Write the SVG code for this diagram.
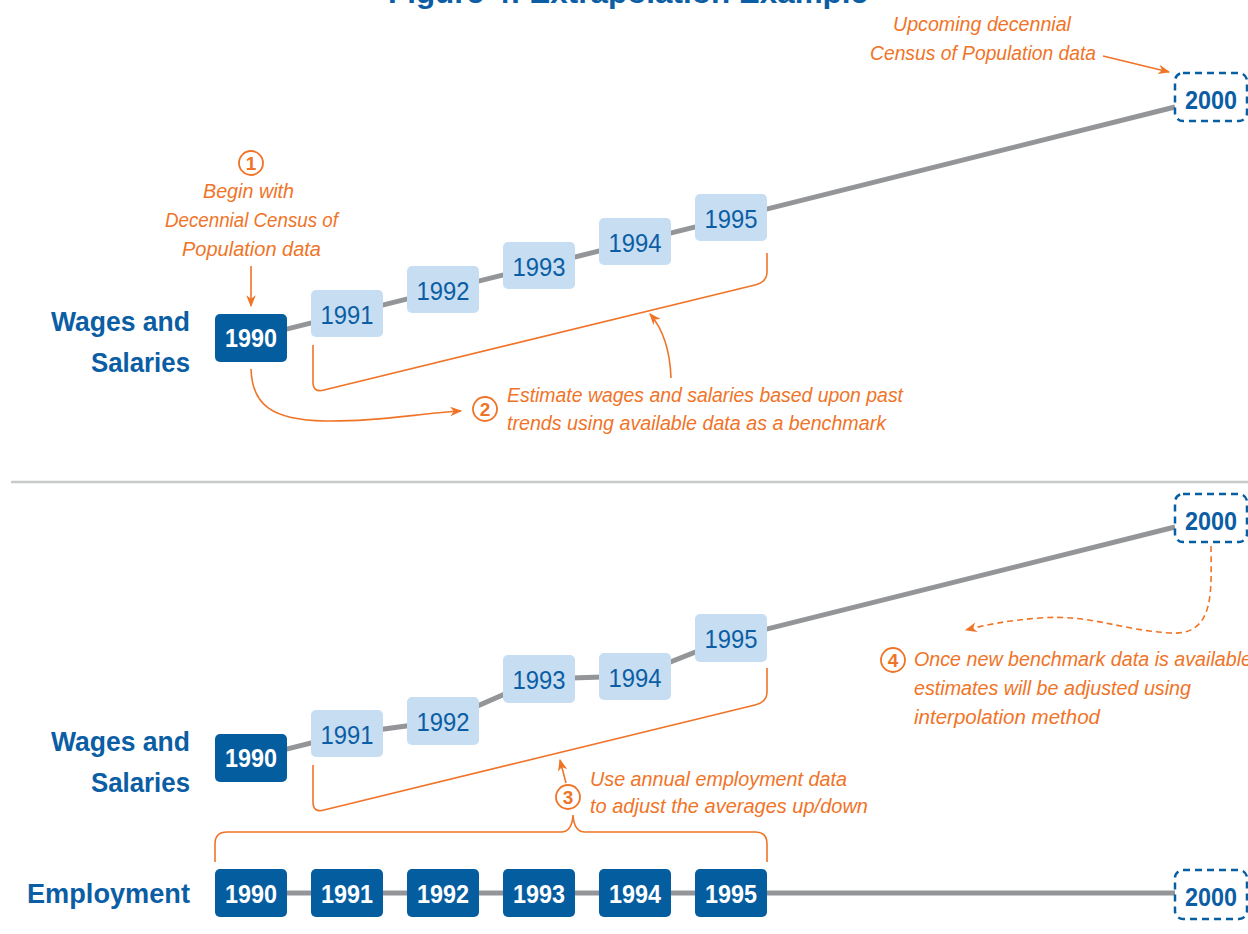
<svg xmlns="http://www.w3.org/2000/svg" width="1248" height="934" viewBox="0 0 1248 934">
<style>
.dk{fill:#045d9f}
.lt{fill:#c7ddf2}
.dash{fill:#ffffff;stroke:#065fa3;stroke-width:2.5;stroke-dasharray:7 5}
.wt{font-family:"Liberation Sans",Arial,sans-serif;font-weight:bold;font-size:25px;fill:#ffffff;text-anchor:middle}
.bt{font-family:"Liberation Sans",Arial,sans-serif;font-size:25px;fill:#0b5ea4;text-anchor:middle}
.bb{font-family:"Liberation Sans",Arial,sans-serif;font-weight:bold;font-size:25px;fill:#0b5ea4;text-anchor:middle}
.lab{font-family:"Liberation Sans",Arial,sans-serif;font-weight:bold;font-size:27px;fill:#0b5ea4;text-anchor:end}
.ann{font-family:"Liberation Sans",Arial,sans-serif;font-style:italic;font-size:20.5px;fill:#f07428}
.num{font-family:"Liberation Sans",Arial,sans-serif;font-weight:bold;font-size:19px;fill:#f07428;text-anchor:middle}
.circ{fill:#ffffff;stroke:#f07428;stroke-width:1.8}
.gl{fill:none;stroke:#939598;stroke-width:5}
.ol{fill:none;stroke:#f07428;stroke-width:1.6}
.od{fill:none;stroke:#f07428;stroke-width:1.6;stroke-dasharray:6 4}
</style>
<defs>
<marker id="ah" viewBox="0 0 10 10" refX="9" refY="5" markerWidth="12" markerHeight="12" markerUnits="userSpaceOnUse" orient="auto">
<path d="M0,1 L10,5 L0,9 L3,5 Z" fill="#f07428"/>
</marker>
</defs>

<g id="title">
<text x="628" y="3" textLength="480" lengthAdjust="spacingAndGlyphs" style="font-family:'Liberation Sans',Arial,sans-serif;font-weight:bold;font-size:30px;fill:#0b5ea4;text-anchor:middle">Figure 4: Extrapolation Example</text>
</g>

<g id="separator">
<line x1="11" y1="482" x2="1248" y2="482" stroke="#c8c9c9" stroke-width="2.5"/>
</g>

<g id="connectors">
<polyline class="gl" points="251,338 1175,107"/>
<polyline class="gl" points="251,758 347,734 443,721 539,679 635,676 731,638 1175,527"/>
<line class="gl" x1="251" y1="893" x2="1175" y2="893"/>
<line class="ol" x1="1103" y1="56" x2="1169" y2="72" marker-end="url(#ah)"/>
<line class="ol" x1="251" y1="266" x2="251" y2="306" marker-end="url(#ah)"/>
<path class="ol" d="M313 345 V382 Q313 393 324 390 L755 285 Q767 282 767 272 V253"/>
<path class="ol" d="M671 378 C670 350 663 329 650 314" marker-end="url(#ah)"/>
<path class="ol" d="M251 369 C252 405 272 420 325 421 C380 422 420 413 461 411" marker-end="url(#ah)"/>
<path class="ol" d="M313 765 V802 Q313 813 324 810 L755 705 Q767 702 767 692 V668"/>
<line class="ol" x1="566" y1="783" x2="560" y2="760" marker-end="url(#ah)"/>
<path class="ol" d="M215 862 V844 Q215 832 227 832 H561 Q572 832 573 815 Q574 832 585 832 H755 Q767 832 767 844 V862"/>
<path class="od" d="M1211 546 C1211 590 1216 636 1170 633 C1120 630 1090 614 1040 618 C1010 620 985 625 966 630" marker-end="url(#ah)"/>
</g>

<g id="label-wages-top">
<text class="lab" x="190" y="331" textLength="139" lengthAdjust="spacingAndGlyphs">Wages and</text>
<text class="lab" x="190" y="372" textLength="99" lengthAdjust="spacingAndGlyphs">Salaries</text>
</g>
<g id="label-wages-mid">
<text class="lab" x="190" y="751" textLength="139" lengthAdjust="spacingAndGlyphs">Wages and</text>
<text class="lab" x="190" y="792" textLength="99" lengthAdjust="spacingAndGlyphs">Salaries</text>
</g>
<g id="label-employment">
<text class="lab" x="190" y="903" textLength="163" lengthAdjust="spacingAndGlyphs">Employment</text>
</g>

<g id="t1990"><rect class="dk" x="215" y="314" width="72" height="48" rx="5"/><text class="wt" x="251" y="347" textLength="52" lengthAdjust="spacingAndGlyphs">1990</text></g>
<g id="t1991"><rect class="lt" x="311" y="290" width="72" height="47" rx="5"/><text class="bt" x="347" y="324" textLength="53" lengthAdjust="spacingAndGlyphs">1991</text></g>
<g id="t1992"><rect class="lt" x="407" y="266" width="72" height="47" rx="5"/><text class="bt" x="443" y="300" textLength="53" lengthAdjust="spacingAndGlyphs">1992</text></g>
<g id="t1993"><rect class="lt" x="503" y="242" width="72" height="47" rx="5"/><text class="bt" x="539" y="276" textLength="53" lengthAdjust="spacingAndGlyphs">1993</text></g>
<g id="t1994"><rect class="lt" x="599" y="218" width="72" height="47" rx="5"/><text class="bt" x="635" y="252" textLength="53" lengthAdjust="spacingAndGlyphs">1994</text></g>
<g id="t1995"><rect class="lt" x="695" y="194" width="72" height="47" rx="5"/><text class="bt" x="731" y="228" textLength="53" lengthAdjust="spacingAndGlyphs">1995</text></g>
<g id="t2000"><rect class="dash" x="1175" y="73" width="72" height="48" rx="8"/><text class="bb" x="1211" y="109" textLength="52" lengthAdjust="spacingAndGlyphs">2000</text></g>

<g id="m1990"><rect class="dk" x="215" y="734" width="72" height="48" rx="5"/><text class="wt" x="251" y="767" textLength="52" lengthAdjust="spacingAndGlyphs">1990</text></g>
<g id="m1991"><rect class="lt" x="311" y="710" width="72" height="47" rx="5"/><text class="bt" x="347" y="744" textLength="53" lengthAdjust="spacingAndGlyphs">1991</text></g>
<g id="m1992"><rect class="lt" x="407" y="697" width="72" height="48" rx="5"/><text class="bt" x="443" y="731" textLength="53" lengthAdjust="spacingAndGlyphs">1992</text></g>
<g id="m1993"><rect class="lt" x="503" y="655" width="72" height="48" rx="5"/><text class="bt" x="539" y="689" textLength="53" lengthAdjust="spacingAndGlyphs">1993</text></g>
<g id="m1994"><rect class="lt" x="599" y="653" width="72" height="47" rx="5"/><text class="bt" x="635" y="687" textLength="53" lengthAdjust="spacingAndGlyphs">1994</text></g>
<g id="m1995"><rect class="lt" x="695" y="614" width="72" height="48" rx="5"/><text class="bt" x="731" y="648" textLength="53" lengthAdjust="spacingAndGlyphs">1995</text></g>
<g id="m2000"><rect class="dash" x="1175" y="494" width="72" height="48" rx="8"/><text class="bb" x="1211" y="530" textLength="52" lengthAdjust="spacingAndGlyphs">2000</text></g>

<g id="e1990"><rect class="dk" x="215" y="869" width="72" height="48" rx="5"/><text class="wt" x="251" y="903" textLength="52" lengthAdjust="spacingAndGlyphs">1990</text></g>
<g id="e1991"><rect class="dk" x="311" y="869" width="72" height="48" rx="5"/><text class="wt" x="347" y="903" textLength="52" lengthAdjust="spacingAndGlyphs">1991</text></g>
<g id="e1992"><rect class="dk" x="407" y="869" width="72" height="48" rx="5"/><text class="wt" x="443" y="903" textLength="52" lengthAdjust="spacingAndGlyphs">1992</text></g>
<g id="e1993"><rect class="dk" x="503" y="869" width="72" height="48" rx="5"/><text class="wt" x="539" y="903" textLength="52" lengthAdjust="spacingAndGlyphs">1993</text></g>
<g id="e1994"><rect class="dk" x="599" y="869" width="72" height="48" rx="5"/><text class="wt" x="635" y="903" textLength="52" lengthAdjust="spacingAndGlyphs">1994</text></g>
<g id="e1995"><rect class="dk" x="695" y="869" width="72" height="48" rx="5"/><text class="wt" x="731" y="903" textLength="52" lengthAdjust="spacingAndGlyphs">1995</text></g>
<g id="e2000"><rect class="dash" x="1175" y="870" width="72" height="49" rx="8"/><text class="bb" x="1211" y="906" textLength="52" lengthAdjust="spacingAndGlyphs">2000</text></g>

<g id="note-upcoming">
<text class="ann" x="893" y="31" textLength="178" lengthAdjust="spacingAndGlyphs">Upcoming decennial</text>
<text class="ann" x="870" y="60" textLength="226" lengthAdjust="spacingAndGlyphs">Census of Population data</text>
</g>
<g id="note-1">
<circle class="circ" cx="251" cy="163" r="12"/>
<text class="num" x="251" y="170">1</text>
<text class="ann" x="203" y="198" textLength="91" lengthAdjust="spacingAndGlyphs">Begin with</text>
<text class="ann" x="165" y="227" textLength="173" lengthAdjust="spacingAndGlyphs">Decennial Census of</text>
<text class="ann" x="182" y="256" textLength="139" lengthAdjust="spacingAndGlyphs">Population data</text>
</g>
<g id="note-2">
<circle class="circ" cx="485" cy="409" r="12"/>
<text class="num" x="485" y="416">2</text>
<text class="ann" x="507" y="402" textLength="396" lengthAdjust="spacingAndGlyphs">Estimate wages and salaries based upon past</text>
<text class="ann" x="507" y="430" textLength="379" lengthAdjust="spacingAndGlyphs">trends using available data as a benchmark</text>
</g>
<g id="note-3">
<circle class="circ" cx="568" cy="797" r="12"/>
<text class="num" x="568" y="804">3</text>
<text class="ann" x="590" y="786" textLength="257" lengthAdjust="spacingAndGlyphs">Use annual employment data</text>
<text class="ann" x="590" y="813" textLength="278" lengthAdjust="spacingAndGlyphs">to adjust the averages up/down</text>
</g>
<g id="note-4">
<circle class="circ" cx="893" cy="660" r="12"/>
<text class="num" x="893" y="667">4</text>
<text class="ann" x="914" y="666" textLength="338" lengthAdjust="spacingAndGlyphs">Once new benchmark data is available</text>
<text class="ann" x="914" y="695" textLength="277" lengthAdjust="spacingAndGlyphs">estimates will be adjusted using</text>
<text class="ann" x="914" y="724" textLength="186" lengthAdjust="spacingAndGlyphs">interpolation method</text>
</g>
</svg>
